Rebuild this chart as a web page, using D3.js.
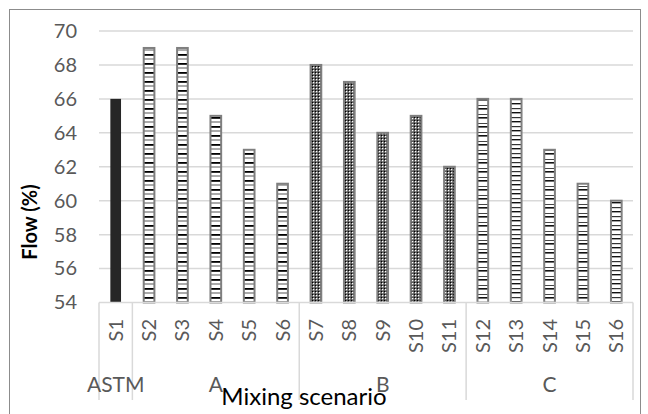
<!DOCTYPE html>
<html>
<head>
<meta charset="utf-8">
<script src="https://cdn.jsdelivr.net/npm/d3@7"></script>
<style>
  html, body { margin: 0; padding: 0; background: #fff; }
  svg { display: block; }
  text { font-family: Lato, "Open Sans", sans-serif; }
</style>
</head>
<body>
<svg id="chart" width="648" height="414"></svg>
<script>
// ---- data ----
const categories = ["S1","S2","S3","S4","S5","S6","S7","S8","S9","S10","S11","S12","S13","S14","S15","S16"];
const flowValues = [66, 69, 69, 65, 63, 61, 68, 67, 64, 65, 62, 66, 66, 63, 61, 60];
const groupOf    = ["ASTM","A","A","A","A","A","B","B","B","B","B","C","C","C","C","C"];
const groupNames = ["ASTM","A","B","C"];
const yTicks     = [54, 56, 58, 60, 62, 64, 66, 68, 70];
const yTitle = "Flow (%)";
const xTitle = "Mixing scenario";

// ---- layout ----
const svg = d3.select("#chart");
const plot = { left: 99, right: 633, top: 31, bottom: 302.5 };

const x = d3.scaleBand().domain(categories).range([plot.left, plot.right]).padding(0);
const y = d3.scaleLinear().domain([54, 70]).range([plot.bottom, plot.top]);

// outer frame
svg.append("rect").attr("x", 9.5).attr("y", 9.5).attr("width", 631).attr("height", 420)
  .attr("fill", "#fff").attr("stroke", "#8c8c8c").attr("stroke-width", 1);

// ---- patterns ----
const defs = svg.append("defs");
// group A: ladder rungs
const pA = defs.append("pattern").attr("id", "patA").attr("patternUnits", "userSpaceOnUse")
  .attr("width", 12).attr("height", 9);
pA.append("rect").attr("width", 12).attr("height", 9).attr("fill", "#fff");
pA.append("rect").attr("y", 0).attr("width", 12).attr("height", 1.8).attr("fill", "#000");
pA.append("rect").attr("y", 4.5).attr("width", 12).attr("height", 1).attr("fill", "#555");
// group B: dotted grid
const pB = defs.append("pattern").attr("id", "patB").attr("patternUnits", "userSpaceOnUse")
  .attr("width", 3).attr("height", 3);
pB.append("rect").attr("width", 3).attr("height", 3).attr("fill", "#5a5a5a");
pB.append("rect").attr("x", 1).attr("y", 1).attr("width", 1.3).attr("height", 1.3).attr("fill", "#fff");
pB.append("rect").attr("x", 0).attr("y", 0).attr("width", 1).attr("height", 1).attr("fill", "#000");
// group C: bracket-like rungs
const pC = defs.append("pattern").attr("id", "patC").attr("patternUnits", "userSpaceOnUse")
  .attr("width", 12).attr("height", 9);
pC.append("rect").attr("width", 12).attr("height", 9).attr("fill", "#fff");
pC.append("rect").attr("y", 0).attr("width", 12).attr("height", 1.6).attr("fill", "#111");
pC.append("rect").attr("y", 6).attr("width", 12).attr("height", 1).attr("fill", "#444");
// group C variant with "H" marks
const pH = defs.append("pattern").attr("id", "patH").attr("patternUnits", "userSpaceOnUse")
  .attr("width", 12).attr("height", 9);
pH.append("rect").attr("width", 12).attr("height", 9).attr("fill", "#fff");
pH.append("rect").attr("y", 0).attr("width", 12).attr("height", 1.2).attr("fill", "#333");
pH.append("rect").attr("y", 4).attr("width", 12).attr("height", 1.4).attr("fill", "#111");

// ---- gridlines ----
svg.append("g").selectAll("line").data(yTicks.filter(t => t !== 54)).join("line")
  .attr("x1", plot.left).attr("x2", plot.right)
  .attr("y1", d => y(d)).attr("y2", d => y(d))
  .attr("stroke", "#d9d9d9").attr("stroke-width", 1.5);

// ---- y axis ----
const yAxis = d3.axisLeft(y).tickValues(yTicks).tickSize(0).tickPadding(0).tickFormat(d3.format("d"));
const gy = svg.append("g").attr("transform", `translate(${plot.left - 22},0)`).call(yAxis);
gy.select(".domain").remove();
gy.selectAll("text").attr("font-size", 20).attr("fill", "#595959")
  .attr("font-family", "Lato, sans-serif");

// ---- bars ----
function fillFor(d, i) {
  const g = groupOf[i];
  if (g === "ASTM") return "#262626";
  if (g === "A") return "url(#patA)";
  if (g === "B") return "url(#patB)";
  return (categories[i] === "S13" || categories[i] === "S16") ? "url(#patH)" : "url(#patC)";
}
const barW = x.bandwidth() * 0.32;
svg.append("g").selectAll("rect").data(flowValues).join("rect")
  .attr("x", (d, i) => x(categories[i]) + x.bandwidth() / 2 - barW / 2)
  .attr("width", barW)
  .attr("y", d => y(d))
  .attr("height", d => y(54) - y(d))
  .attr("fill", fillFor)
  .attr("stroke", (d, i) => groupOf[i] === "ASTM" ? "#262626" : "#7f7f7f")
  .attr("stroke-width", (d, i) => groupOf[i] === "ASTM" ? 0 : 2);

// ---- x axis (baseline) ----
svg.append("line").attr("x1", plot.left).attr("x2", plot.right)
  .attr("y1", plot.bottom).attr("y2", plot.bottom)
  .attr("stroke", "#d9d9d9").attr("stroke-width", 1.5);

// category labels (rotated)
svg.append("g").selectAll("text").data(categories).join("text")
  .attr("transform", d => `translate(${x(d) + x.bandwidth() / 2 + 7},319) rotate(-90)`)
  .attr("text-anchor", "end")
  .attr("font-size", 20).attr("fill", "#595959")
  .text(d => d);

// group boundaries
const groups = groupNames.map(g => {
  const idx = categories.filter((c, i) => groupOf[i] === g);
  return { name: g, first: idx[0], last: idx[idx.length - 1] };
});
const bounds = [plot.left].concat(groups.map(g => x(g.last) + x.bandwidth()));
svg.append("g").selectAll("line").data(bounds).join("line")
  .attr("x1", d => d).attr("x2", d => d)
  .attr("y1", plot.bottom).attr("y2", 400)
  .attr("stroke", "#d9d9d9").attr("stroke-width", 1.5);

svg.append("g").selectAll("text").data(groups).join("text")
  .attr("x", g => (x(g.first) + x(g.last) + x.bandwidth()) / 2)
  .attr("y", 392)
  .attr("text-anchor", "middle")
  .attr("font-size", 21).attr("fill", "#595959")
  .text(g => g.name);

// ---- axis titles ----
svg.append("text")
  .attr("transform", "translate(37,222) rotate(-90)")
  .attr("text-anchor", "middle")
  .attr("font-size", 20).attr("font-weight", "bold").attr("fill", "#000")
  .text(yTitle);

svg.append("text")
  .attr("x", 304).attr("y", 405)
  .attr("text-anchor", "middle")
  .attr("font-size", 24).attr("fill", "#000")
  .text(xTitle);
</script>
</body>
</html>
